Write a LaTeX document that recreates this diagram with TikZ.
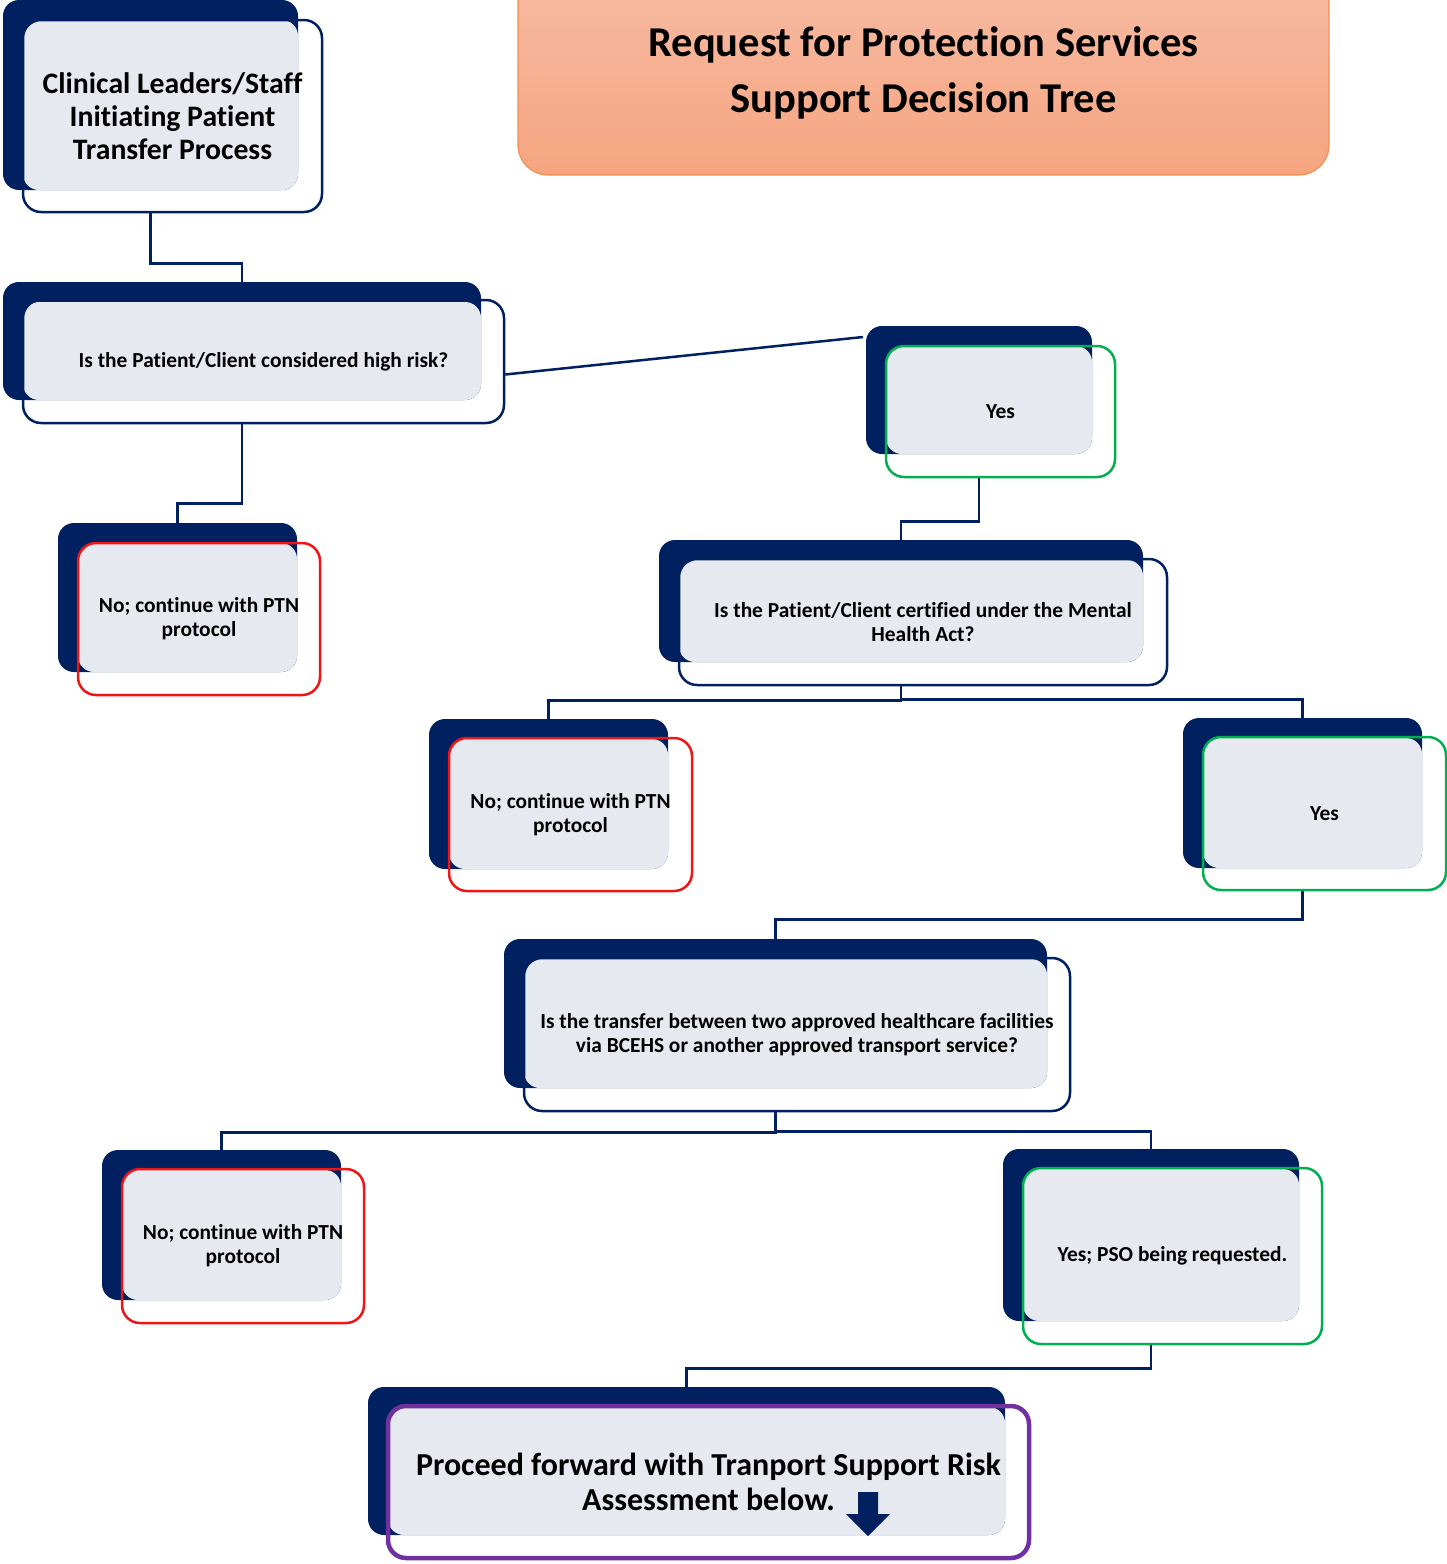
\documentclass[tikz,border=0pt]{standalone}
\usepackage{fontspec}
\setmainfont{Carlito}[Ligatures=NoCommon]
\usetikzlibrary{calc}
\definecolor{navy}{HTML}{002060}
\definecolor{paleblue}{HTML}{E7E9F0}
\definecolor{okgreen}{HTML}{00B050}
\definecolor{nored}{HTML}{F01414}
\definecolor{gopurple}{HTML}{7030A0}
\definecolor{peachtop}{HTML}{F6BCA5}
\definecolor{peachbot}{HTML}{F6A47F}
\definecolor{peachline}{HTML}{F0904E}
\begin{document}
\begin{tikzpicture}[x=1pt,y=-1pt,
	font=\bfseries\fontsize{21.4}{24}\selectfont,
	back/.style={fill=navy,rounded corners=16pt,inner sep=0pt,outer sep=0pt},
	face/.style={fill=paleblue,rounded corners=16pt},
	frame/.style={draw=navy,line width=2.5pt,rounded corners=18pt,align=center,inner sep=0pt},
	link/.style={draw=navy,line width=2.5pt}]
	\useasboundingbox (0,0) rectangle (1447,1564);
	
	%title
	\node[draw=peachline,line width=1.2pt,top color=peachtop,bottom color=peachbot,rounded corners=30pt,
	  minimum width=811pt,minimum height=205pt,align=center,font=\bfseries\fontsize{42.5}{56}\selectfont]
	  (title) at (923.5,72.5) {Request for Protection Services\\Support Decision Tree};
	
	%boxes
	\node[back,minimum width=295pt,minimum height=190pt] (clinB) at (150.5,95) {};
	\fill[face] ($(clinB.north west)+(20,20)$) rectangle (clinB.south east);
	\node[frame,minimum width=299pt,minimum height=192pt,font=\bfseries\fontsize{29.7}{33}\selectfont]
	  (clin) at (172.5,116) {Clinical Leaders/Staff\\Initiating Patient\\Transfer Process};
	
	\node[back,minimum width=478pt,minimum height=118pt] (riskB) at (242,341) {};
	\fill[face] ($(riskB.north west)+(20,20)$) rectangle (riskB.south east);
	\node[frame,minimum width=481pt,minimum height=123pt] (risk) at (263.5,361.5) {Is the Patient/Client considered high risk?};
	
	\node[back,minimum width=226pt,minimum height=128pt] (yes1B) at (979,390) {};
	\fill[face] ($(yes1B.north west)+(20,20)$) rectangle (yes1B.south east);
	\node[frame,draw=okgreen,minimum width=229pt,minimum height=131pt] (yes1) at (1000.5,411.5) {Yes};
	
	\node[back,minimum width=239pt,minimum height=149pt] (no1B) at (177.5,597.5) {};
	\fill[face] ($(no1B.north west)+(20,20)$) rectangle (no1B.south east);
	\node[frame,draw=nored,minimum width=242pt,minimum height=152pt] (no1) at (199,619) {No; continue with PTN\\protocol};
	
	\node[back,minimum width=484pt,minimum height=122pt] (mhaB) at (901,601) {};
	\fill[face] ($(mhaB.north west)+(20,20)$) rectangle (mhaB.south east);
	\node[frame,minimum width=488pt,minimum height=126pt] (mha) at (923,622) {Is the Patient/Client certified under the Mental\\Health Act?};
	
	\node[back,minimum width=239pt,minimum height=150pt] (no2B) at (548.5,794) {};
	\fill[face] ($(no2B.north west)+(20,20)$) rectangle (no2B.south east);
	\node[frame,draw=nored,minimum width=243pt,minimum height=153pt] (no2) at (570.5,814.5) {No; continue with PTN\\protocol};
	
	\node[back,minimum width=239pt,minimum height=150pt] (yes2B) at (1302.5,793) {};
	\fill[face] ($(yes2B.north west)+(20,20)$) rectangle (yes2B.south east);
	\node[frame,draw=okgreen,minimum width=243pt,minimum height=153pt] (yes2) at (1324.5,813.5) {Yes};
	
	\node[back,minimum width=543pt,minimum height=149pt] (transB) at (775.5,1013.5) {};
	\fill[face] ($(transB.north west)+(20,20)$) rectangle (transB.south east);
	\node[frame,minimum width=546pt,minimum height=153pt] (trans) at (797,1034.5) {Is the transfer between two approved healthcare facilities\\via BCEHS or another approved transport service?};
	
	\node[back,minimum width=239pt,minimum height=150pt] (no3B) at (221.5,1225) {};
	\fill[face] ($(no3B.north west)+(20,20)$) rectangle (no3B.south east);
	\node[frame,draw=nored,minimum width=242pt,minimum height=154pt] (no3) at (243,1246) {No; continue with PTN\\protocol};
	
	\node[back,minimum width=296pt,minimum height=172pt] (psoB) at (1151,1235) {};
	\fill[face] ($(psoB.north west)+(20,20)$) rectangle (psoB.south east);
	\node[frame,draw=okgreen,minimum width=299pt,minimum height=176pt] (pso) at (1172.5,1256) {Yes; PSO being requested.};
	
	\node[back,minimum width=637pt,minimum height=148pt] (goB) at (686.5,1461) {};
	\fill[face] ($(goB.north west)+(20,20)$) rectangle (goB.south east);
	\node[frame,draw=gopurple,line width=4.5pt,minimum width=641pt,minimum height=152pt,font=\bfseries\fontsize{32}{35}\selectfont]
	  (go) at (708.5,1482) {Proceed forward with Tranport Support Risk\\Assessment below.};
	\fill[navy] (858,1492) -- (878,1492) -- (878,1514) -- (890,1514) -- (868,1536) -- (846,1514) -- (858,1514) -- cycle; %down arrow
	
	%connectors
	\draw[link] (clinB.south |- clin.south) -- ++(0,50) -| (riskB.north);
	\draw[link] ($(risk.east)+(0,13)$) -- ($(yes1B.north west)+(-3,11)$);
	\draw[link] (riskB.south |- risk.south) -- ++(0,79) -| (no1B.north);
	\draw[link] (yes1B.south |- yes1.south) -- ++(0,43) -| (mhaB.north);
	\draw[link] (mhaB.south |- mha.south) -- ++(0,14) -| (no2B.north);
	\draw[link] (mhaB.south |- mha.south) -- ++(0,13) -| (yes2B.north);
	\draw[link] (yes2B.south |- yes2.south) -- ++(0,28) -| (transB.north);
	\draw[link] (transB.south |- trans.south) -- ++(0,20) -| (no3B.north);
	\draw[link] (transB.south |- trans.south) -- ++(0,19) -| (psoB.north);
	\draw[link] (psoB.south |- pso.south) -- ++(0,23) -| (goB.north);
\end{tikzpicture}
\end{document}
